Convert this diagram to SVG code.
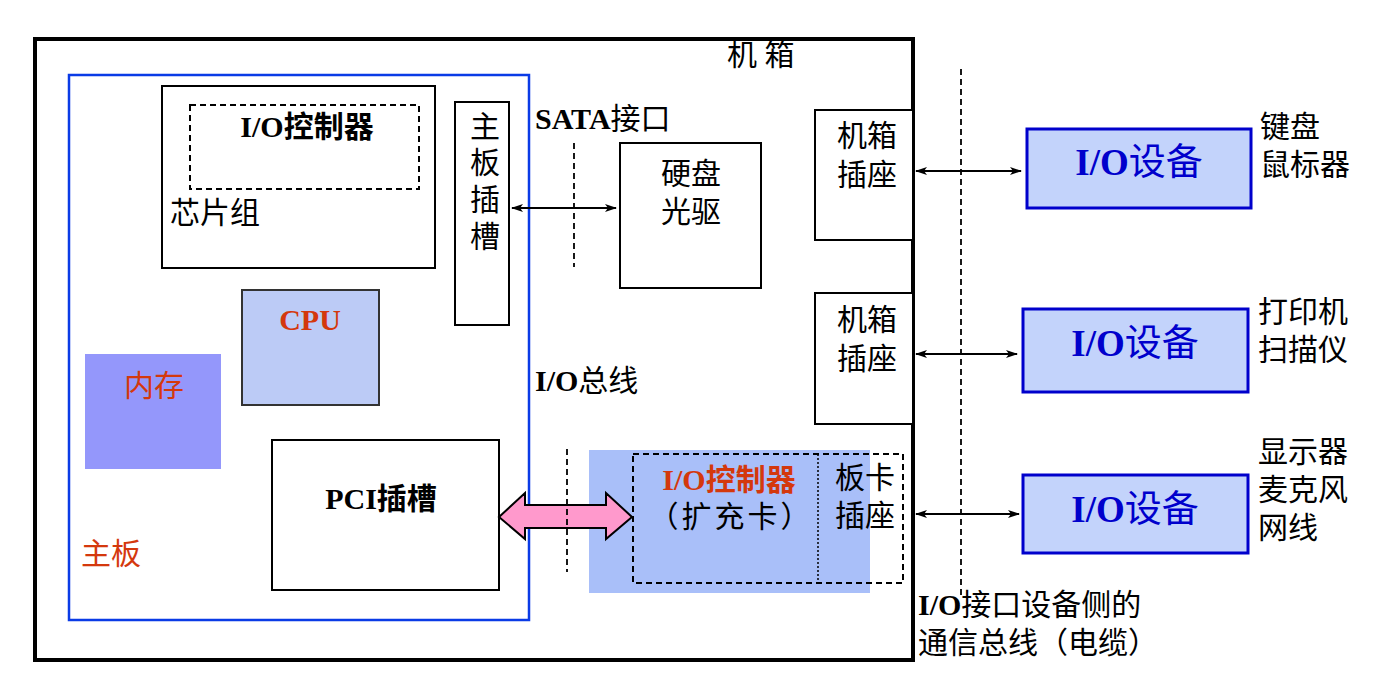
<svg xmlns="http://www.w3.org/2000/svg" width="1400" height="698" viewBox="0 0 1400 698">
<defs>
<marker id="ah" markerWidth="12" markerHeight="8" refX="11" refY="4" orient="auto-start-reverse" markerUnits="userSpaceOnUse">
<path d="M0,0 L12,4 L0,8 L3,4 Z" fill="#000"/>
</marker>
</defs>
<style>
text{font-family:"Liberation Serif","Noto Sans CJK SC",serif;font-size:30px;fill:#000}
.b{font-weight:bold}
.m{text-anchor:middle}
.red{fill:#d4380d}
.blue{fill:#0000cc}
.box{fill:#fff;stroke:#000;stroke-width:2}
.dash{fill:none;stroke:#000;stroke-width:2;stroke-dasharray:6,4}
.vd{stroke:#000;stroke-width:1.8;stroke-dasharray:6,4;fill:none}
.arr{stroke:#000;stroke-width:2;fill:none;marker-start:url(#ah);marker-end:url(#ah)}
.dev{fill:#c3d3fb;stroke:#0000cc;stroke-width:3}
.devt{font-size:37px;fill:#0000cc;text-anchor:middle}
</style>
<rect width="1400" height="698" fill="#fff"/>
<g id="chassis">
<rect x="35" y="39" width="878" height="621" fill="#fff" stroke="#000" stroke-width="4"/>
<text x="727" y="65">机 箱</text>
</g>
<g id="mainboard">
<rect x="69" y="75" width="460" height="545" fill="none" stroke="#0a3be6" stroke-width="2.5"/>
<text x="81" y="564" class="red">主板</text>
</g>
<g id="chipset">
<rect class="box" x="162" y="86" width="273" height="182"/>
<rect class="dash" x="190" y="105" width="229" height="84"/>
<text x="307" y="137" class="m b">I/O控制器</text>
<text x="170" y="223">芯片组</text>
</g>
<g id="mb-slot">
<rect class="box" x="455" y="102" width="54" height="223"/>
<text x="485" y="137" class="m">主</text>
<text x="485" y="173" class="m">板</text>
<text x="485" y="210" class="m">插</text>
<text x="485" y="247" class="m">槽</text>
</g>
<g id="cpu">
<rect x="242" y="290" width="137" height="115" fill="#bccbf6" stroke="#333" stroke-width="2"/>
<text x="310" y="330" class="m b red">CPU</text>
</g>
<g id="memory">
<rect x="85" y="354" width="136" height="115" fill="#9497fb"/>
<text x="154" y="396" class="m red">内存</text>
</g>
<g id="pci">
<rect class="box" x="272" y="440" width="227" height="150"/>
<text x="381" y="509" class="m b">PCI插槽</text>
</g>
<g id="disk">
<rect class="box" x="620" y="143" width="141" height="145"/>
<text x="691" y="184" class="m">硬盘</text>
<text x="691" y="222" class="m">光驱</text>
</g>
<g id="socket1">
<rect class="box" x="815" y="110" width="98" height="130"/>
<text x="867" y="146" class="m">机箱</text>
<text x="867" y="185" class="m">插座</text>
</g>
<g id="socket2">
<rect class="box" x="815" y="293" width="98" height="131"/>
<text x="867" y="330" class="m">机箱</text>
<text x="867" y="369" class="m">插座</text>
</g>
<g id="card">
<rect x="589" y="450" width="281" height="143" fill="#a9bff9"/>
<rect class="dash" x="633" y="454" width="270" height="129"/>
<line x1="818" y1="454" x2="818" y2="583" stroke="#000" stroke-width="1.5" stroke-dasharray="2,2"/>
<text x="729" y="490" class="m b red">I/O控制器</text>
<text x="731" y="527" class="m" letter-spacing="3">（扩充卡）</text>
<text x="835" y="488">板卡</text>
<text x="835" y="526">插座</text>
</g>
<g id="dev1">
<rect class="dev" x="1027" y="129" width="224" height="79"/>
<text x="1139" y="175" class="devt"><tspan class="b">I/O</tspan>设备</text>
<text x="1260" y="137">键盘</text>
<text x="1260" y="175">鼠标器</text>
</g>
<g id="dev2">
<rect class="dev" x="1023" y="309" width="225" height="83"/>
<text x="1135" y="356" class="devt"><tspan class="b">I/O</tspan>设备</text>
<text x="1258" y="322">打印机</text>
<text x="1258" y="360">扫描仪</text>
</g>
<g id="dev3">
<rect class="dev" x="1023" y="475" width="225" height="78"/>
<text x="1135" y="522" class="devt"><tspan class="b">I/O</tspan>设备</text>
<text x="1258" y="462">显示器</text>
<text x="1258" y="500">麦克风</text>
<text x="1258" y="538">网线</text>
</g>
<g id="connectors">
<line class="vd" x1="574" y1="143" x2="574" y2="267"/>
<line class="arr" x1="512" y1="208" x2="616" y2="208"/>
<line class="vd" x1="961" y1="69" x2="961" y2="595"/>
<line class="arr" x1="916" y1="171" x2="1021" y2="171"/>
<line class="arr" x1="916" y1="354" x2="1017" y2="354"/>
<line class="arr" x1="916" y1="514" x2="1019" y2="514"/>
<path d="M499,517 L525,493 L525,505 L606,505 L606,493 L632,517 L606,539 L606,528 L525,528 L525,539 Z" fill="#ff99cc" stroke="#000" stroke-width="2" stroke-linejoin="miter"/>
<line class="vd" x1="567" y1="449" x2="567" y2="572"/>
</g>
<g id="labels">
<text x="535" y="129"><tspan class="b">SATA</tspan>接口</text>
<text x="535" y="391"><tspan class="b">I/O</tspan>总线</text>
<text x="918" y="615"><tspan class="b">I/O</tspan>接口设备侧的</text>
<text x="918" y="653">通信总线（电缆）</text>
</g>
</svg>
